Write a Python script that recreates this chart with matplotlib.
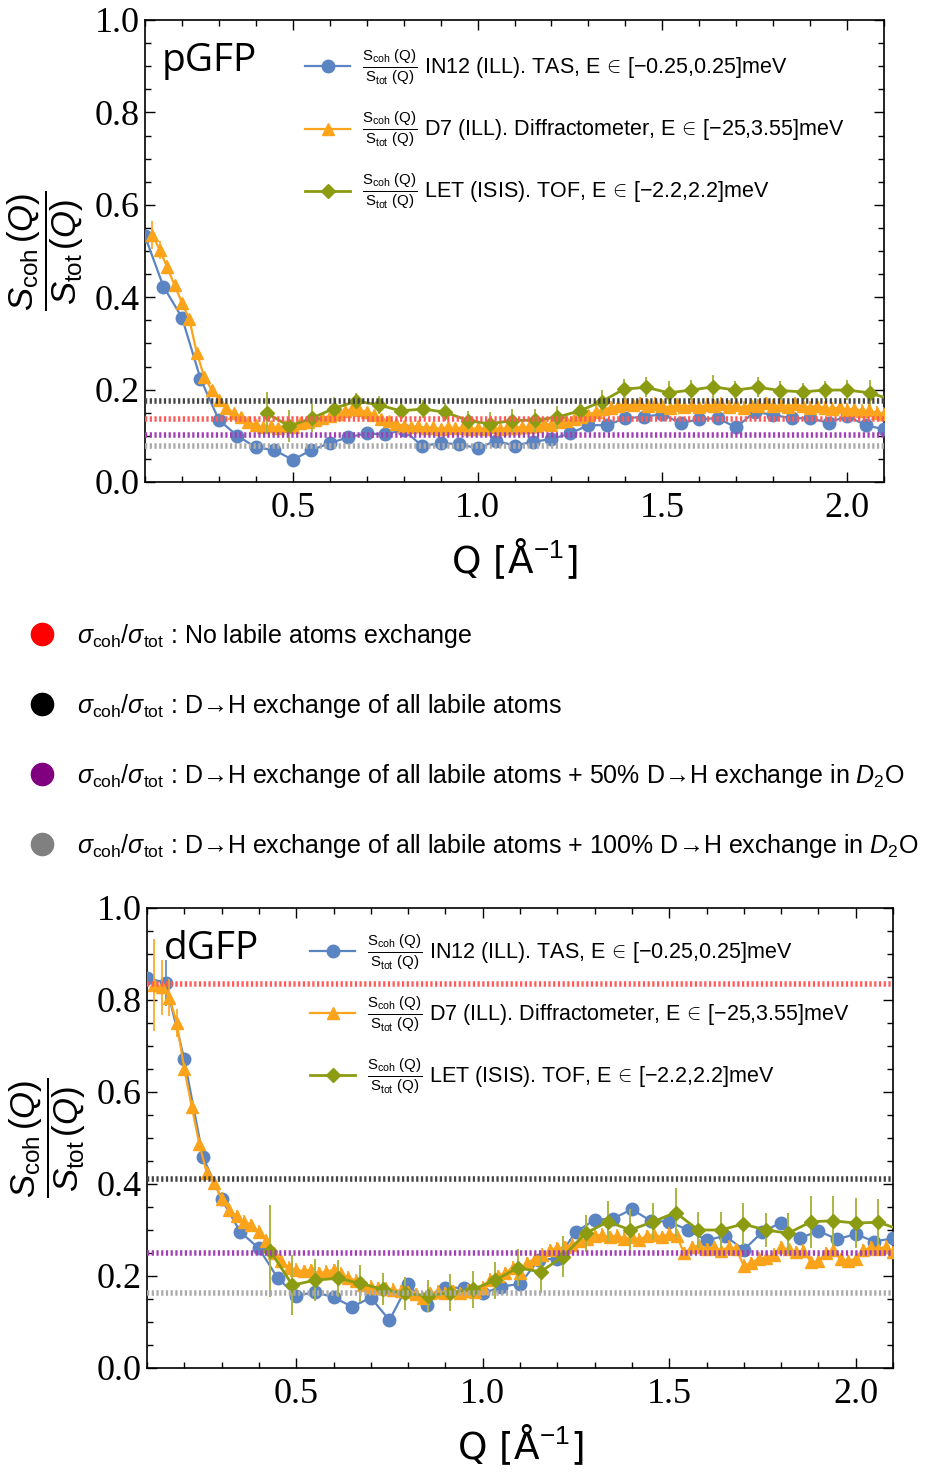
import numpy as np
import matplotlib
matplotlib.use("Agg")
import matplotlib.pyplot as plt
from matplotlib.ticker import MultipleLocator
from matplotlib.lines import Line2D
from matplotlib.font_manager import FontProperties

plt.rcParams['mathtext.fontset'] = 'custom'
plt.rcParams['mathtext.rm'] = 'Liberation Sans'
plt.rcParams['mathtext.it'] = 'Liberation Sans:italic'
plt.rcParams['mathtext.bf'] = 'Liberation Sans:bold'
plt.rcParams['font.family'] = ['Liberation Sans', 'DejaVu Sans']

BLUE = '#5b84c2'
ORANGE = '#fba31a'
GREEN = '#8c9c12'

# Q grids (1/Angstrom)
q_in12 = np.round(np.arange(0.10, 2.101, 0.05), 2)
q_d7 = np.round(np.arange(0.12, 2.101, 0.02), 2)
q_let = np.round(0.43 + 0.0604 * np.arange(29), 3)

# ---- pGFP ----
pgfp_in12 = [0.532, 0.423, 0.356, 0.224, 0.134, 0.100, 0.075, 0.069, 0.048, 0.069,
             0.084, 0.097, 0.105, 0.103, 0.113, 0.078, 0.084, 0.082, 0.073, 0.089,
             0.079, 0.087, 0.093, 0.105, 0.123, 0.123, 0.138, 0.141, 0.147, 0.127,
             0.136, 0.138, 0.118, 0.152, 0.145, 0.138, 0.138, 0.128, 0.143, 0.123,
             0.114]
pgfp_in12_err = [0.008] * 41

pgfp_d7 = [0.535, 0.502, 0.465, 0.426, 0.388, 0.352, 0.280, 0.228, 0.200, 0.178,
           0.160, 0.149, 0.141, 0.130, 0.123, 0.118, 0.121, 0.117, 0.122, 0.120,
           0.127, 0.130, 0.134, 0.139, 0.142, 0.148, 0.153, 0.158, 0.156, 0.152,
           0.146, 0.137, 0.131, 0.126, 0.122, 0.119, 0.121, 0.117, 0.118, 0.115,
           0.119, 0.116, 0.118, 0.114, 0.117, 0.115, 0.119, 0.114, 0.117, 0.116,
           0.120, 0.118, 0.122, 0.125, 0.124, 0.129, 0.131, 0.136, 0.141, 0.146,
           0.152, 0.157, 0.161, 0.165, 0.168, 0.166, 0.170, 0.164, 0.168, 0.165,
           0.161, 0.167, 0.163, 0.166, 0.162, 0.167, 0.164, 0.168, 0.163, 0.166,
           0.161, 0.167, 0.165, 0.170, 0.164, 0.166, 0.162, 0.168, 0.164, 0.161,
           0.165, 0.160, 0.158, 0.162, 0.156, 0.159, 0.153, 0.155, 0.150, 0.148]
pgfp_d7_err = [0.03, 0.02, 0.015] + [0.010] * 57 + [0.015] * 40

pgfp_let = [0.149, 0.121, 0.138, 0.159, 0.175, 0.167, 0.154, 0.158, 0.151, 0.133,
            0.126, 0.133, 0.134, 0.140, 0.154, 0.174, 0.201, 0.205, 0.193, 0.199,
            0.206, 0.199, 0.205, 0.198, 0.195, 0.199, 0.199, 0.193, 0.178]
pgfp_let_err = [0.045, 0.035, 0.030, 0.025, 0.018, 0.020, 0.020, 0.020, 0.020, 0.020,
                0.025, 0.025, 0.025, 0.025, 0.020, 0.025, 0.022, 0.022, 0.025, 0.022,
                0.025, 0.020, 0.022, 0.020, 0.020, 0.020, 0.022, 0.028, 0.020]

# sigma_coh/sigma_tot levels: none, labile, labile+50% D2O, labile+100% D2O
pgfp_levels = [0.137, 0.175, 0.101, 0.077]

# ---- dGFP ----
dgfp_in12 = [0.847, 0.838, 0.671, 0.459, 0.367, 0.296, 0.260, 0.196, 0.157, 0.165,
             0.154, 0.133, 0.153, 0.104, 0.182, 0.138, 0.175, 0.174, 0.162, 0.177,
             0.183, 0.235, 0.238, 0.296, 0.322, 0.325, 0.345, 0.320, 0.318, 0.300,
             0.278, 0.287, 0.257, 0.296, 0.316, 0.282, 0.298, 0.280, 0.291, 0.275,
             0.282]
dgfp_in12_err = [0.012, 0.05] + [0.012] * 39

dgfp_d7 = [0.832, 0.828, 0.805, 0.750, 0.650, 0.568, 0.488, 0.425, 0.402, 0.368,
           0.344, 0.330, 0.318, 0.311, 0.296, 0.277, 0.250, 0.232, 0.218, 0.214,
           0.210, 0.213, 0.206, 0.209, 0.213, 0.205, 0.196, 0.190, 0.180, 0.177,
           0.174, 0.172, 0.170, 0.167, 0.165, 0.160, 0.152, 0.163, 0.166, 0.163,
           0.167, 0.162, 0.168, 0.165, 0.175, 0.192, 0.200, 0.206, 0.218, 0.207,
           0.228, 0.238, 0.246, 0.256, 0.260, 0.263, 0.268, 0.276, 0.280, 0.287,
           0.290, 0.284, 0.288, 0.281, 0.284, 0.279, 0.287, 0.290, 0.284, 0.292,
           0.288, 0.249, 0.262, 0.266, 0.258, 0.262, 0.255, 0.264, 0.258, 0.222,
           0.228, 0.238, 0.240, 0.246, 0.262, 0.258, 0.252, 0.255, 0.230, 0.232,
           0.250, 0.256, 0.236, 0.232, 0.238, 0.256, 0.262, 0.258, 0.264, 0.252]
dgfp_d7_err = [0.10, 0.06, 0.04, 0.03] + [0.014] * 96

dgfp_let = [0.255, 0.180, 0.191, 0.195, 0.184, 0.171, 0.162, 0.157, 0.164, 0.171,
            0.191, 0.218, 0.209, 0.242, 0.293, 0.318, 0.300, 0.318, 0.338, 0.300,
            0.300, 0.313, 0.300, 0.293, 0.318, 0.320, 0.315, 0.317, 0.300]
dgfp_let_err = [0.100, 0.065, 0.045, 0.040, 0.040, 0.035, 0.035, 0.035, 0.040, 0.040,
                0.040, 0.040, 0.045, 0.045, 0.040, 0.045, 0.045, 0.040, 0.053, 0.040,
                0.040, 0.045, 0.036, 0.045, 0.057, 0.055, 0.055, 0.050, 0.040]

dgfp_levels = [0.835, 0.410, 0.250, 0.164]

level_colors = ['#ff5a5a', '#444444', '#a23fb5', '#ababab']
dot_colors = ['#ff0000', '#000000', '#800080', '#808080']
sig = r'$\sigma_{\mathrm{coh}}/\sigma_{\mathrm{tot}}$ : '
level_labels = [
    sig + 'No labile atoms exchange',
    sig + 'D→H exchange of all labile atoms',
    sig + 'D→H exchange of all labile atoms + 50% D→H exchange in $D_2$O',
    sig + 'D→H exchange of all labile atoms + 100% D→H exchange in $D_2$O',
]

frac = r'$\frac{\mathrm{S_{coh}\ (Q)}}{\mathrm{S_{tot}\ (Q)}}$ '
series_labels = [
    frac + r'IN12 (ILL). TAS, E$\,\in\,$[−0.25,0.25]meV',
    frac + r'D7 (ILL). Diffractometer, E$\,\in\,$[−25,3.55]meV',
    frac + r'LET (ISIS). TOF, E$\,\in\,$[−2.2,2.2]meV',
]

W, H = 927, 1477
fig = plt.figure(figsize=(W / 100, H / 100), dpi=100)
ax1 = fig.add_axes([145 / W, 1 - 482 / H, 739 / W, 462 / H])
ax2 = fig.add_axes([147 / W, 1 - 1368 / H, 746 / W, 460 / H])

tick_font = FontProperties(family='Liberation Serif', size=26)
leg_font = FontProperties(family=['Liberation Sans', 'DejaVu Sans'], size=15.5)


def draw_panel(ax, name, in12, in12_err, d7, d7_err, let, let_err, levels,
               leg_anchor, lab_x):
    ax.errorbar(q_in12, in12, yerr=in12_err, color=BLUE, marker='o', ms=9,
                lw=1.6, ecolor=BLUE, elinewidth=1.2, capsize=0, zorder=3)
    ax.errorbar(q_d7, d7, yerr=d7_err, color=ORANGE, marker='^', ms=8,
                lw=1.6, ecolor=ORANGE, elinewidth=1.2, capsize=0, zorder=4)
    ax.errorbar(q_let, let, yerr=let_err, color=GREEN, marker='D', ms=7.5,
                lw=2.0, ecolor='#aab640', elinewidth=1.4, capsize=0, zorder=5)
    for lev, c in zip(levels, level_colors):
        ax.axhline(lev, color=c, lw=4, ls=(0, (0.4, 0.45)), zorder=6)

    ax.set_xlim(0.1, 2.1)
    ax.set_ylim(0.0, 1.0)
    ax.xaxis.set_major_locator(MultipleLocator(0.5))
    ax.xaxis.set_minor_locator(MultipleLocator(0.1))
    ax.yaxis.set_major_locator(MultipleLocator(0.2))
    ax.yaxis.set_minor_locator(MultipleLocator(0.05))
    ax.tick_params(which='both', direction='in', top=True, right=True, width=1.0)
    ax.tick_params(which='major', length=7)
    ax.tick_params(which='minor', length=4)
    ax.tick_params(axis='x', which='major', pad=7)
    ax.tick_params(axis='y', which='major', pad=4)
    for lab in ax.get_xticklabels() + ax.get_yticklabels():
        lab.set_fontproperties(tick_font)
    for sp in ax.spines.values():
        sp.set_linewidth(1.2)

    ax.set_xlabel(r'Q [Å$^{-1}$]', fontsize=27, family='DejaVu Sans')
    ax.xaxis.set_label_coords(0.5, -0.118)
    ax.set_ylabel(r'$\dfrac{S_{\mathrm{coh}}\,(Q)}{S_{\mathrm{tot}}\,(Q)}$', fontsize=25)
    ax.yaxis.set_label_coords(lab_x, 0.5)

    ax.text(0.023, 0.952, name, transform=ax.transAxes, ha='left', va='top',
            fontsize=28, family='Open Sans')

    handles = [
        Line2D([], [], color=BLUE, marker='o', ms=9, lw=1.6),
        Line2D([], [], color=ORANGE, marker='^', ms=8.5, lw=1.6),
        Line2D([], [], color=GREEN, marker='D', ms=7, lw=2.0),
    ]
    ax.legend(handles, series_labels, loc='upper left', bbox_to_anchor=leg_anchor,
              frameon=False, borderpad=0, borderaxespad=0, handlelength=2.1,
              handletextpad=0.55, labelspacing=1.07, prop=leg_font)


draw_panel(ax1, 'pGFP', pgfp_in12, pgfp_in12_err, pgfp_d7, pgfp_d7_err,
           pgfp_let, pgfp_let_err, pgfp_levels, (0.2165, 0.94), -0.08)
draw_panel(ax2, 'dGFP', dgfp_in12, dgfp_in12_err, dgfp_d7, dgfp_d7_err,
           dgfp_let, dgfp_let_err, dgfp_levels, (0.2185, 0.947), -0.079)

# key for the sigma_coh/sigma_tot reference levels
dots = [Line2D([], [], ls='', marker='o', ms=16, color=c) for c in dot_colors]
fig.legend(dots, level_labels, loc='upper left', bbox_to_anchor=(27 / W, 1 - 622 / H),
           frameon=False, borderpad=0, borderaxespad=0, handlelength=1.2,
           handletextpad=0.8, labelspacing=1.68,
           prop=FontProperties(family=['Liberation Sans', 'DejaVu Sans'], size=18))

fig.savefig('out.png', dpi=100)
